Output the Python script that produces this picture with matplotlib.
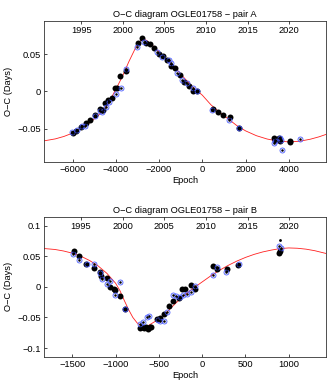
import matplotlib
matplotlib.use("Agg")
import matplotlib.pyplot as plt

plt.rcParams['font.family'] = ['Liberation Sans', 'DejaVu Sans']
plt.rcParams['font.size'] = 6.7

# ---- pair A ----
a_prim_x = [-6000, -5850, -5630, -5400, -5200, -4970, -4750, -4600, -4510, -4350, -4170,
            -4050, -3950, -3790, -3540, -2990, -2790, -2620, -2430, -2220, -2020, -1830,
            -1640, -1460, -1250, -1030, -830, -630, -420, -250, 500, 730, 960, 1290, 1680,
            3300, 3350, 3550, 3600, 4050, 4070]
a_prim_y = [-0.056, -0.053, -0.048, -0.043, -0.038, -0.032, -0.024, -0.025, -0.016, -0.011, -0.009,
            0.005, 0.004, 0.021, 0.028, 0.065, 0.072, 0.065, 0.064, 0.059, 0.051, 0.048,
            0.042, 0.034, 0.031, 0.022, 0.013, 0.008, 0.001, 0.000, -0.023, -0.028, -0.031, -0.035, -0.049,
            -0.062, -0.065, -0.063, -0.066, -0.066, -0.068]
a_sec_x = [-6050, -5800, -5550, -5450, -4950, -4750, -4650, -4450, -4300, -4000, -3750,
           -3550, -3000, -2680, -2100, -1850, -1550, -1450, -1150, -930, -720, -420, -250,
           460, 1250, 1680, 3320, 3380, 3600, 3650, 3700, 4500]
a_sec_y = [-0.054, -0.052, -0.047, -0.046, -0.033, -0.026, -0.027, -0.021, -0.014, -0.003, 0.004,
           0.030, 0.060, 0.067, 0.053, 0.046, 0.043, 0.038, 0.025, 0.015, 0.012, 0.005, 0.000,
           -0.025, -0.039, -0.049, -0.069, -0.067, -0.063, -0.065, -0.079, -0.064]
a_fit_x = [-7310, -6800, -6400, -6000, -5600, -5200, -4800, -4400, -4000, -3700, -3400, -3100,
           -2900, -2780, -2600, -2300, -2000, -1600, -1200, -800, -400, 0, 400, 800, 1200,
           1600, 2000, 2500, 3000, 3500, 4000, 4500, 5000, 5400, 5720]
a_fit_y = [-0.0664, -0.0638, -0.0605, -0.0560, -0.0500, -0.0420, -0.0320, -0.0190, 0.0030, 0.0200,
           0.0400, 0.0580, 0.0670, 0.0712, 0.0690, 0.0620, 0.0530, 0.0420, 0.0300, 0.0170, 0.0050,
           -0.0050, -0.0180, -0.0280, -0.0370, -0.0460, -0.0530, -0.0595, -0.0640, -0.0668,
           -0.0678, -0.0670, -0.0642, -0.0610, -0.0578]

# ---- pair B ----
b_prim_x = [-1485, -1419, -1338, -1254, -1177, -1165, -1100, -1061, -1023, -1004, -946, -888,
            -715, -700, -670, -650, -620, -600, -590, -523, -492, -438, -388, -331, -273,
            -234, -196, -131, -81, 130, 177, 285, 419, 892, 900]
b_prim_y = [0.0587, 0.0505, 0.037, 0.0315, 0.0245, 0.018, 0.014, 0.0005, -0.004, -0.0055, -0.0147,
            -0.0354, -0.0664, -0.0655, -0.067, -0.066, -0.068, -0.066, -0.065, -0.053, -0.0515,
            -0.0447, -0.031, -0.0229, -0.0175, -0.004, -0.003, 0.0026, -0.003, 0.034, 0.0288,
            0.029, 0.035, 0.056, 0.059]
b_sec_x = [-1490, -1420, -1330, -1250, -1180, -1155, -1100, -1060, -1010, -950, -890, -720,
           -680, -640, -610, -510, -490, -440, -410, -340, -300, -260, -220, -180, -130, -80,
           120, 175, 280, 420, 890, 910]
b_sec_y = [0.053, 0.044, 0.037, 0.038, 0.022, 0.013, 0.005, 0.009, -0.014, 0.008, -0.036, -0.060,
           -0.058, -0.049, -0.048, -0.054, -0.056, -0.056, -0.041, -0.014, -0.015, -0.016, -0.014,
           -0.011, -0.009, 0.001, 0.020, 0.033, 0.024, 0.037, 0.067, 0.064]
b_fit_x = [-1823, -1700, -1600, -1500, -1400, -1300, -1200, -1100, -1000, -950, -900, -850, -800,
           -750, -700, -660, -620, -550, -500, -400, -300, -200, -100, 0, 100, 200, 300, 400,
           500, 600, 700, 800, 900, 1000, 1100, 1200, 1300, 1430]
b_fit_y = [0.0625, 0.0610, 0.0585, 0.0550, 0.0500, 0.0430, 0.0340, 0.0220, 0.0060, -0.0060,
           -0.0220, -0.0370, -0.0500, -0.0590, -0.0640, -0.0650, -0.0630, -0.0570, -0.0520,
           -0.0400, -0.0260, -0.0130, -0.0020, 0.0080, 0.0180, 0.0270, 0.0350, 0.0420, 0.0480,
           0.0530, 0.0570, 0.0600, 0.0625, 0.0635, 0.0630, 0.0615, 0.0590, 0.0545]
b_dot_x = [900]
b_dot_y = [0.0767]

years = [1995, 2000, 2005, 2010, 2015, 2020]
# epoch of year 2000 and epochs per year (pair A); pair B cycle is 4x longer
E2000_A, EPY_A = -3677, 384.8


def panel(ax, px, py, sx, sy, fx, fy, xlim, ylim, yt, ytl, xt, title, scale):
    ax.plot(fx, fy, color='#ff2020', lw=0.6, zorder=1)
    ax.plot(px, py, 'o', color='black', ms=4.3, mew=0, zorder=2)
    ax.plot(sx, sy, 'o', mfc='none', mec='#4a5cff', ms=3.6, mew=0.6, zorder=3)
    ax.plot(sx, sy, '.', color='black', ms=1.6, zorder=4)
    ax.plot(px, py, '.', color='black', ms=1.2, zorder=4)
    ax.set_xlim(*xlim)
    ax.set_ylim(*ylim)
    ax.set_yticks(yt)
    ax.set_yticklabels(ytl)
    ax.set_xticks(xt)
    ax.set_title(title, fontsize=6.7, pad=3)
    ax.set_xlabel('Epoch', labelpad=1.5)
    ax.set_ylabel('O\u2212C (Days)', labelpad=3)
    ax.tick_params(direction='in', length=2.5, width=0.5, pad=2.5)
    for s in ax.spines.values():
        s.set_linewidth(0.6)
        s.set_color('#333333')
    top = ax.twiny()
    top.set_xlim(*xlim)
    top.set_xticks([(E2000_A + (y - 2000) * EPY_A) / scale for y in years])
    top.set_xticklabels([str(y) for y in years])
    top.tick_params(direction='in', length=2.5, width=0.5, pad=-10)
    for s in top.spines.values():
        s.set_visible(False)


fig = plt.figure(figsize=(3.32, 3.84), dpi=100)
ax1 = fig.add_axes([0.1334, 0.5789, 0.8485, 0.3664])
ax2 = fig.add_axes([0.1334, 0.0711, 0.8485, 0.3638])

panel(ax1, a_prim_x, a_prim_y, a_sec_x, a_sec_y, a_fit_x, a_fit_y,
      (-7310, 5720), (-0.0945, 0.0948), [-0.05, 0, 0.05], ['\u22120.05', '0', '0.05'],
      [-6000, -4000, -2000, 0, 2000, 4000], 'O\u2212C diagram OGLE01758 \u2212 pair A', 1)
panel(ax2, b_prim_x, b_prim_y, b_sec_x, b_sec_y, b_fit_x, b_fit_y,
      (-1823, 1430), (-0.114, 0.114), [-0.1, -0.05, 0, 0.05, 0.1],
      ['\u22120.1', '\u22120.05', '0', '0.05', '0.1'],
      [-1500, -1000, -500, 0, 500, 1000], 'O\u2212C diagram OGLE01758 \u2212 pair B', 4)
ax2.plot(b_dot_x, b_dot_y, '.', color='black', ms=2, zorder=4)

fig.savefig('out.png', dpi=100)
